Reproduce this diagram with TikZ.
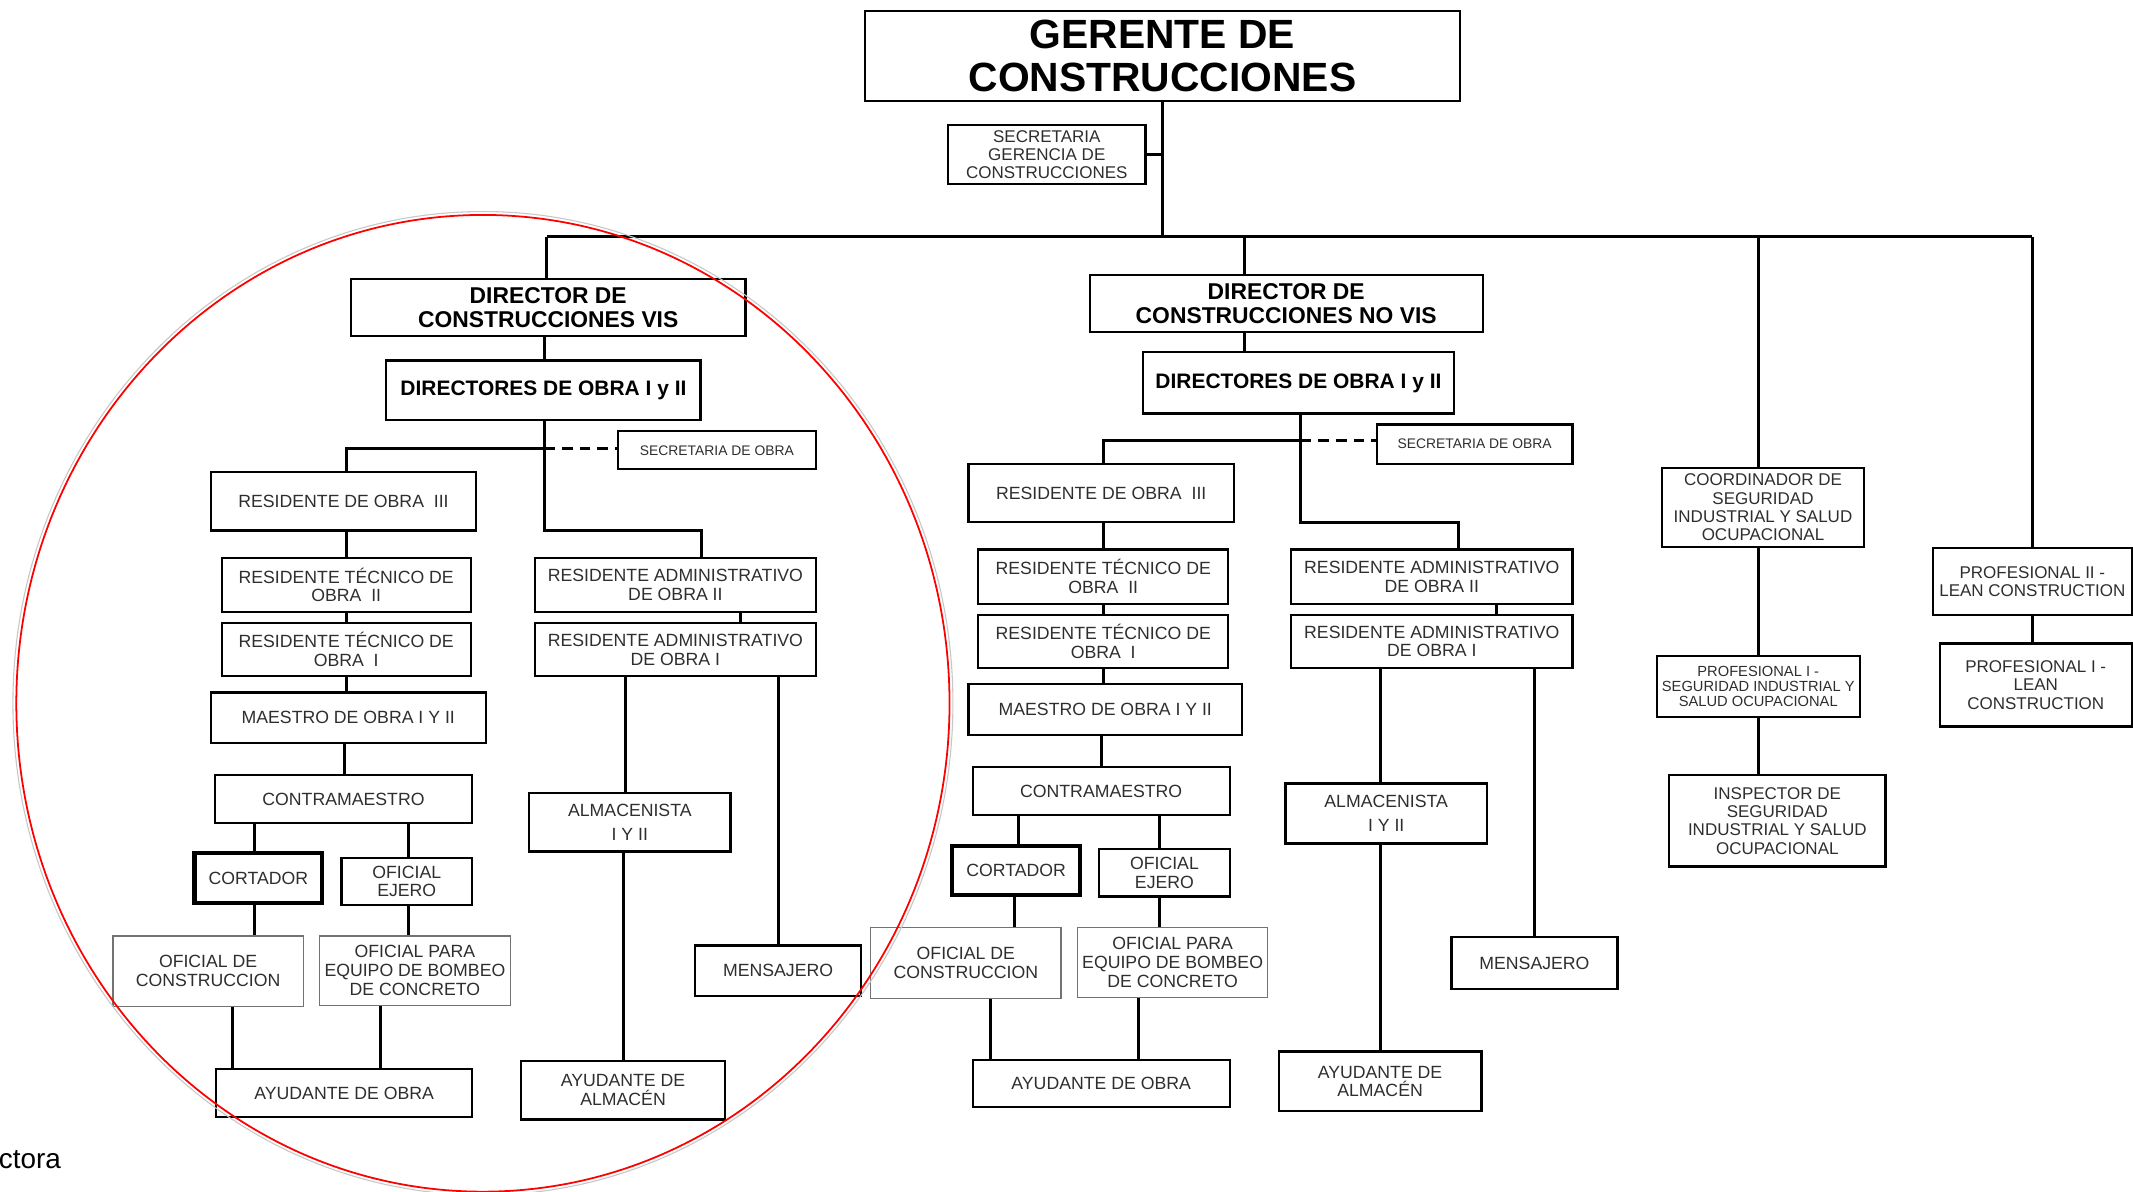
\documentclass[tikz,border=0pt]{standalone}
\usepackage{fontspec}
\setmainfont{Liberation Sans}
\usetikzlibrary{calc}
% box given by its corners: \orgbox[style]{name}{x1}{y1}{x2}{y2}{text}
\newcommand\orgbox[7][]{%
  \node[box,minimum width={(#5)-(#3)},minimum height={(#6)-(#4)},#1]
    (#2) at ({((#3)+(#5))/2},{((#4)+(#6))/2}) {#7};}
% vertical connector at a given x between a box and the one below it
\newcommand\vlink[3]{\draw[link] (#2.south -| #1,0) -- (#3.north -| #1,0);}
\begin{document}
\begin{tikzpicture}[x=1pt,y=-1pt,
  box/.style={draw,line width=1.6pt,align=center,inner sep=0pt,text=black!82,
    font=\fontsize{13}{13.8}\selectfont},
  bigtitle/.style={text=black,font=\bfseries\fontsize{30}{32}\selectfont},
  title/.style={text=black,font=\bfseries\fontsize{16.8}{17.5}\selectfont},
  subtitle/.style={text=black,font=\bfseries\fontsize{15.4}{16}\selectfont},
  tiny/.style={font=\fontsize{10.2}{11}\selectfont},
  small/.style={font=\fontsize{10.8}{11}\selectfont},
  mid/.style={font=\fontsize{12.5}{13.4}\selectfont},
  wide/.style={font=\fontsize{13}{18}\selectfont},
  thinbox/.style={draw=black!55,line width=0.9pt},
  heavybox/.style={line width=3pt},
  link/.style={line width=2.2pt},
  dashlink/.style={line width=2.2pt,dash pattern=on 8pt off 5pt},
]
\useasboundingbox (0,0) rectangle (1568,876);

% ---- top management
\orgbox[bigtitle]{gerente}{636}{8}{1073}{74}{GERENTE DE\\CONSTRUCCIONES}
\orgbox[font=\fontsize{12.5}{13.2}\selectfont]{secger}{697}{92}{842}{135}{SECRETARIA\\GERENCIA DE\\CONSTRUCCIONES}

% ---- VIS branch
\orgbox[title]{dirvis}{258}{205}{548}{247}{DIRECTOR DE\\CONSTRUCCIONES VIS}
\orgbox[subtitle]{dobvis}{284}{265}{515}{309}{DIRECTORES DE OBRA I y II}
\orgbox[tiny]{secvis}{454}{317}{600}{345}{SECRETARIA DE OBRA}
\orgbox{res3v}{155}{347}{350}{390}{RESIDENTE DE OBRA\ \ III}
\orgbox{rt2v}{163}{410}{346}{450}{RESIDENTE TÉCNICO DE\\OBRA\ \ II}
\orgbox{rt1v}{163}{458}{346}{497}{RESIDENTE TÉCNICO DE\\OBRA\ \ I}
\orgbox{maev}{155}{509}{357}{546}{MAESTRO DE OBRA I Y II}
\orgbox{conv}{158}{570}{347}{605}{CONTRAMAESTRO}
\orgbox[heavybox]{corv}{143}{627}{237}{664}{CORTADOR}
\orgbox{ejev}{251}{631}{347}{665}{OFICIAL\\EJERO}
\orgbox[thinbox]{ofcv}{83}{688}{223}{740}{OFICIAL DE\\CONSTRUCCION}
\orgbox[thinbox]{ofbv}{235}{688}{375}{739}{OFICIAL PARA\\EQUIPO DE BOMBEO\\DE CONCRETO}
\orgbox{ayov}{159}{786}{347}{821}{AYUDANTE DE OBRA}
\orgbox{ra2v}{393}{410}{600}{450}{RESIDENTE ADMINISTRATIVO\\DE OBRA II}
\orgbox{ra1v}{393}{458}{600}{497}{RESIDENTE ADMINISTRATIVO\\DE OBRA I}
\orgbox[wide]{almv}{389}{583}{537}{626}{ALMACENISTA\\I Y II}
\orgbox{ayav}{383}{780}{533}{823}{AYUDANTE DE\\ALMACÉN}
\orgbox{menv}{511}{695}{633}{732}{MENSAJERO}

% ---- NO VIS branch
\orgbox[title]{dirnv}{801}{202}{1090}{244}{DIRECTOR DE\\CONSTRUCCIONES NO VIS}
\orgbox[subtitle]{dobnv}{840}{259}{1069}{304}{DIRECTORES DE OBRA I y II}
\orgbox[tiny]{secnv}{1012}{312}{1156}{341}{SECRETARIA DE OBRA}
\orgbox{res3n}{712}{341}{907}{384}{RESIDENTE DE OBRA\ \ III}
\orgbox{rt2n}{719}{404}{903}{444}{RESIDENTE TÉCNICO DE\\OBRA\ \ II}
\orgbox{rt1n}{719}{452}{903}{491}{RESIDENTE TÉCNICO DE\\OBRA\ \ I}
\orgbox{maen}{712}{503}{913}{540}{MAESTRO DE OBRA I Y II}
\orgbox{conn}{715}{564}{904}{599}{CONTRAMAESTRO}
\orgbox[heavybox]{corn}{700}{622}{794}{658}{CORTADOR}
\orgbox{ejen}{808}{624}{904}{659}{OFICIAL\\EJERO}
\orgbox[thinbox]{ofcn}{640}{682}{780}{734}{OFICIAL DE\\CONSTRUCCION}
\orgbox[thinbox]{ofbn}{792}{682}{932}{733}{OFICIAL PARA\\EQUIPO DE BOMBEO\\DE CONCRETO}
\orgbox{ayon}{715}{779}{904}{814}{AYUDANTE DE OBRA}
\orgbox{ra2n}{949}{404}{1156}{444}{RESIDENTE ADMINISTRATIVO\\DE OBRA II}
\orgbox{ra1n}{949}{452}{1156}{491}{RESIDENTE ADMINISTRATIVO\\DE OBRA I}
\orgbox[wide]{almn}{945}{576}{1093}{620}{ALMACENISTA\\I Y II}
\orgbox{ayan}{940}{773}{1089}{817}{AYUDANTE DE\\ALMACÉN}
\orgbox{menn}{1067}{689}{1189}{727}{MENSAJERO}

% ---- safety and lean construction
\orgbox[mid]{coord}{1222}{344}{1370}{402}{COORDINADOR DE\\SEGURIDAD\\INDUSTRIAL Y SALUD\\OCUPACIONAL}
\orgbox[small]{profseg}{1218}{482}{1367}{527}{PROFESIONAL I -\\SEGURIDAD INDUSTRIAL Y\\SALUD OCUPACIONAL}
\orgbox[mid]{insp}{1227}{570}{1386}{637}{INSPECTOR DE\\SEGURIDAD\\INDUSTRIAL Y SALUD\\OCUPACIONAL}
\orgbox[mid]{prof2l}{1421}{403}{1567}{452}{PROFESIONAL II -\\LEAN CONSTRUCTION}
\orgbox[mid]{prof1l}{1426}{473}{1567}{534}{PROFESIONAL I -\\LEAN\\CONSTRUCTION}

% ---- main bus
\coordinate (busL) at (402,174);
\coordinate (busR) at (1494,174);
\coordinate (dropN) at (915,174);
\coordinate (dropS) at (1293,174);
\draw[link] (gerente.south) -- (gerente.south |- busL);
\draw[link] (secger.east) -- (secger.east -| gerente.south);
\draw[link] (busL) -- (busR);
\draw[link] (busL) -- (busL |- dirvis.north);
\draw[link] (dropN) -- (dropN |- dirnv.north);
\draw[link] (dropS) -- (dropS |- coord.north);
\draw[link] (busR) -- (busR |- prof2l.north);

% ---- VIS connectors
\coordinate (jv) at (400,330);
\vlink{400}{dirvis}{dobvis}
\draw[link] (dobvis.south -| 400,0) |- (516,390) -- (ra2v.north -| 516,0);
\draw[link] (jv) -| (res3v.north -| 255,0);
\draw[dashlink] (jv) -- (secvis.west |- jv);
\vlink{255}{res3v}{rt2v}
\vlink{255}{rt2v}{rt1v}
\vlink{255}{rt1v}{maev}
\vlink{253}{maev}{conv}
\vlink{187}{conv}{corv}
\vlink{300}{conv}{ejev}
\vlink{187}{corv}{ofcv}
\vlink{300}{ejev}{ofbv}
\vlink{171}{ofcv}{ayov}
\vlink{280}{ofbv}{ayov}
\vlink{544}{ra2v}{ra1v}
\vlink{460}{ra1v}{almv}
\vlink{572}{ra1v}{menv}
\vlink{458}{almv}{ayav}

% ---- NO VIS connectors
\coordinate (jn) at (956,324);
\vlink{915}{dirnv}{dobnv}
\draw[link] (dobnv.south -| 956,0) |- (1072,384) -- (ra2n.north -| 1072,0);
\draw[link] (jn) -| (res3n.north -| 811,0);
\draw[dashlink] (jn) -- (secnv.west |- jn);
\vlink{811}{res3n}{rt2n}
\vlink{811}{rt2n}{rt1n}
\vlink{811}{rt1n}{maen}
\vlink{810}{maen}{conn}
\vlink{749}{conn}{corn}
\vlink{852}{conn}{ejen}
\vlink{746}{corn}{ofcn}
\vlink{852}{ejen}{ofbn}
\vlink{728}{ofcn}{ayon}
\vlink{837}{ofbn}{ayon}
\vlink{1100}{ra2n}{ra1n}
\vlink{1015}{ra1n}{almn}
\vlink{1128}{ra1n}{menn}
\vlink{1015}{almn}{ayan}

% ---- safety / lean connectors
\vlink{1293}{coord}{profseg}
\vlink{1293}{profseg}{insp}
\vlink{1494}{prof2l}{prof1l}

% ---- caption fragment
\node[anchor=base west,inner sep=0pt,font=\fontsize{20.5}{22}\selectfont] (cap) at (-1,859) {ctora};

% ---- highlight ring around the VIS branch
\draw[black!22,line width=0.8pt] (355,517) ellipse [x radius=345.5,y radius=361.5];
\draw[red,line width=1.3pt] (355,517) ellipse [x radius=343,y radius=359];
\end{tikzpicture}
\end{document}
